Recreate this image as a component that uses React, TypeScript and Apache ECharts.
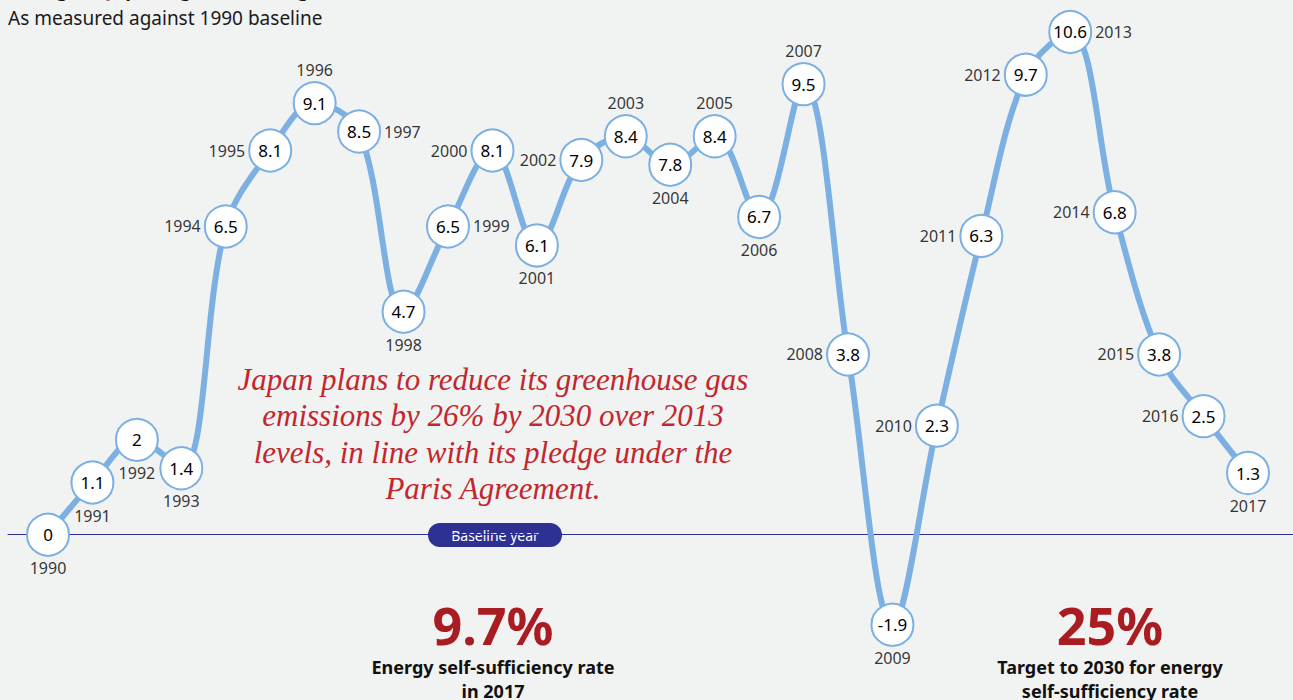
import React, { useEffect, useRef } from "react";
import * as echarts from "echarts";

const years = [1990, 1991, 1992, 1993, 1994, 1995, 1996, 1997, 1998, 1999, 2000, 2001, 2002, 2003, 2004, 2005, 2006, 2007, 2008, 2009, 2010, 2011, 2012, 2013, 2014, 2015, 2016, 2017];
const changePct = [0, 1.1, 2, 1.4, 6.5, 8.1, 9.1, 8.5, 4.7, 6.5, 8.1, 6.1, 7.9, 8.4, 7.8, 8.4, 6.7, 9.5, 3.8, -1.9, 2.3, 6.3, 9.7, 10.6, 6.8, 3.8, 2.5, 1.3];
const yearLabelSide = ["bottom", "bottom", "bottom", "bottom", "left", "left", "top", "right", "bottom", "right", "left", "bottom", "left", "top", "bottom", "top", "bottom", "top", "left", "bottom", "left", "left", "left", "right", "left", "left", "left", "bottom"];

const titleText = "Change in Japan's greenhouse gas emissions, 1990\u20132017 (%)";
const subtitleText = "As measured against 1990 baseline";
const noteLines = [
  "Japan plans to reduce its greenhouse gas",
  "emissions by 26% by 2030 over 2013",
  "levels, in line with its pledge under the",
  "Paris Agreement.",
];
const stat1Value = "9.7%";
const stat1Lines = ["Energy self-sufficiency rate", "in 2017"];
const stat2Value = "25%";
const stat2Lines = ["Target to 2030 for energy", "self-sufficiency rate"];

const FONT = "'Noto Sans', 'Open Sans', sans-serif";
const BLUE = "#7cb0e2";
const NAVY = "#2e3192";
const RED = "#a81c22";

export default function App() {
  const ref = useRef<HTMLDivElement>(null);
  useEffect(() => {
    if (!ref.current) return;
    const chart = echarts.init(ref.current, null, { renderer: "svg" });
    const pts = years.map((y, i) => [y, changePct[i]]);
    const graphic: any[] = [
      {
        type: "text",
        left: 8,
        top: -21,
        style: { text: titleText, font: `bold 19px ${FONT}`, fill: "#111" },
      },
      {
        type: "text",
        x: 8,
        y: 18,
        style: { text: subtitleText, font: `19px ${FONT}`, fill: "#1a1a1a", verticalAlign: "middle" },
      },
      {
        type: "text",
        x: 493,
        y: 434,
        style: {
          text: noteLines.join("\n"),
          font: `italic 31px 'Liberation Serif', serif`,
          lineHeight: 36.5,
          fill: "#c1272d",
          align: "center",
          verticalAlign: "middle",
        },
      },
      {
        type: "group",
        x: 495,
        y: 535,
        children: [
          { type: "rect", shape: { x: -67, y: -12, width: 134, height: 24, r: 12 }, style: { fill: NAVY } },
          {
            type: "text",
            style: { text: "Baseline year", font: `14px ${FONT}`, fill: "#fff", align: "center", verticalAlign: "middle" },
          },
        ],
      },
      {
        type: "text",
        x: 493,
        y: 624,
        style: { text: stat1Value, font: `bold 52px ${FONT}`, fill: RED, align: "center", verticalAlign: "middle" },
      },
      {
        type: "text",
        x: 493,
        y: 655,
        style: { text: stat1Lines.join("\n"), font: `bold 18px ${FONT}`, lineHeight: 24, fill: "#111", align: "center", verticalAlign: "top" },
      },
      {
        type: "text",
        x: 1110,
        y: 624,
        style: { text: stat2Value, font: `bold 52px ${FONT}`, fill: RED, align: "center", verticalAlign: "middle" },
      },
      {
        type: "text",
        x: 1110,
        y: 655,
        style: { text: stat2Lines.join("\n"), font: `bold 18px ${FONT}`, lineHeight: 24, fill: "#111", align: "center", verticalAlign: "top" },
      },
    ];
    chart.setOption({
      animation: false,
      backgroundColor: "#f1f2f2",
      textStyle: { fontFamily: FONT },
      grid: { left: 8, right: 0, top: 13, bottom: 23 },
      xAxis: {
        type: "value",
        min: 1989.1,
        max: 2018.0125,
        axisLine: { show: true, onZero: true, lineStyle: { color: NAVY, width: 1 } },
        axisTick: { show: false },
        axisLabel: { show: false },
        splitLine: { show: false },
      },
      yAxis: {
        type: "value",
        min: -3,
        max: 11,
        show: false,
        splitLine: { show: false },
      },
      graphic,
      series: [
        {
          type: "line",
          data: pts,
          smooth: 0.35,
          lineStyle: { color: BLUE, width: 6 },
          symbol: "circle",
          symbolSize: 42,
          itemStyle: { color: "#ffffff", borderColor: BLUE, borderWidth: 2 },
          label: {
            show: true,
            position: "inside",
            formatter: (p: any) => String(p.value[1]),
            fontSize: 17,
            color: "#000",
            fontFamily: FONT,
          },
          z: 3,
        },
        {
          type: "scatter",
          data: pts.map((p, i) => ({
            value: p,
            label: { position: yearLabelSide[i] },
          })),
          symbolSize: 42,
          itemStyle: { color: "rgba(0,0,0,0)" },
          label: {
            show: true,
            distance: 4,
            formatter: (p: any) => String(p.value[0]),
            fontSize: 16,
            color: "#000",
            fontFamily: FONT,
          },
          z: 4,
          silent: true,
        },
      ],
    });
    return () => chart.dispose();
  }, []);
  return <div ref={ref} style={{ position: "absolute", left: 0, top: 0, width: 1293, height: 700 }} />;
}
